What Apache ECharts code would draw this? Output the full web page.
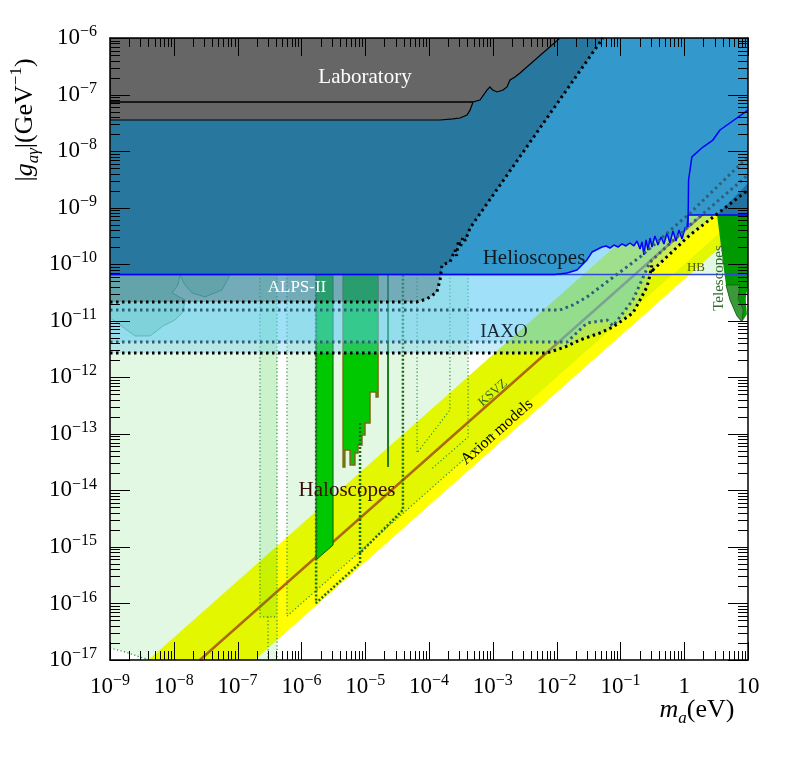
<!DOCTYPE html>
<html>
<head>
<meta charset="utf-8">
<script src="https://cdn.jsdelivr.net/npm/echarts@6/dist/echarts.min.js"></script>
<style>
  html, body { margin: 0; padding: 0; background: #fff; }
  #chart { width: 788px; height: 768px; }
</style>
</head>
<body>
<div id="chart"></div>
<script>
// axis ranges: m_a in eV, |g| in GeV^-1
var massRange = [1e-9, 10];
var couplingRange = [1e-17, 1e-6];
var xTicks = [1e-9, 1e-8, 1e-7, 1e-6, 1e-5, 1e-4, 1e-3, 1e-2, 1e-1, 1, 10];
var yTicks = [1e-17, 1e-16, 1e-15, 1e-14, 1e-13, 1e-12, 1e-11, 1e-10, 1e-9, 1e-8, 1e-7, 1e-6];

// every point below is [m_a, g]
// QCD axion band and KSVZ line
var axionBand = [[4e-9, 1e-17], [10, 2.5e-8], [10, 5.4e-10], [1.85e-7, 1e-17]];
var ksvzLine = [[2.56e-8, 1e-17], [10, 3.9e-9]];

// haloscope projections (pale green)
var haloProjA = [[1e-9, 6.6e-11], [4.15e-7, 6.6e-11], [4.15e-7, 1e-17], [4.24e-9, 1e-17],
  [2.95e-9, 1.13e-17], [1.72e-9, 1.39e-17], [1e-9, 1.63e-17]];
var haloProjB = [[2.24e-7, 6.6e-11], [4.15e-7, 6.6e-11], [4.15e-7, 5.8e-17], [2.24e-7, 5.8e-17]];
var haloProjC = [[5.94e-7, 6.6e-11], [4.1e-4, 6.6e-11], [4.1e-4, 1.03e-12], [2.64e-2, 6.6e-11],
  [10, 6.6e-11], [10, 1e-9], [5.94e-7, 5.94e-17]];

// dotted projection outlines
var projLineA = [[2.24e-7, 6.6e-11], [2.24e-7, 5.8e-17], [4.15e-7, 5.8e-17]];
var projLineB = [[4.15e-7, 6.6e-11], [4.15e-7, 1e-17]];
var projLineC = [[3e-7, 5.8e-17], [3e-7, 1e-17]];
var projLineD = [[5.94e-7, 6.6e-11], [5.94e-7, 5.94e-17], [1e-3, 1e-13]];
var projLineE = [[6.5e-5, 6.6e-11], [6.5e-5, 4.6e-14], [2.13e-4, 2.64e-13], [2.13e-4, 6.6e-11]];
var projLineF = [[4.1e-4, 6.6e-11], [4.1e-4, 8.8e-14], [1.1e-4, 2.4e-14]];
var projLineG = [[1e-9, 1.63e-17], [1.72e-9, 1.39e-17], [2.95e-9, 1.13e-17], [4.24e-9, 1e-17]];
var projThickA = [[1.7e-6, 6.6e-11], [1.7e-6, 1.02e-16], [8.3e-6, 5.2e-16], [8.3e-6, 7.8e-16],
  [3.9e-5, 4.5e-15], [3.9e-5, 6.6e-11]];
var projThickB = [[8.3e-6, 1.56e-13], [8.3e-6, 7.8e-16]];

// haloscope limits (solid green)
var haloLimitA = [[1.7e-6, 6.6e-11], [3.13e-6, 6.6e-11], [3.13e-6, 1.08e-15], [1.7e-6, 5.9e-16]];
var haloLimitB = [[4.5e-6, 6.6e-11], [1.59e-5, 6.6e-11], [1.59e-5, 4.49e-13], [1.48e-5, 4.49e-13],
  [1.48e-5, 5.5e-13], [1.19e-5, 5.5e-13], [1.19e-5, 1.56e-13], [9.93e-6, 1.56e-13],
  [9.93e-6, 9.5e-14], [8.9e-6, 9.5e-14], [8.9e-6, 6.35e-14], [7.7e-6, 6.35e-14],
  [7.7e-6, 4.58e-14], [6.9e-6, 4.58e-14], [6.9e-6, 2.8e-14], [5.8e-6, 2.8e-14],
  [5.8e-6, 5.2e-14], [4.8e-6, 5.2e-14], [4.8e-6, 2.6e-14], [4.5e-6, 2.6e-14]];
var haloLimitC = [[2.28e-5, 6.6e-11], [2.28e-5, 2.6e-14]];

// astrophysical bounds at low mass
var astroA = [[1e-9, 6.4e-11], [1.25e-8, 6.4e-11], [1.16e-8, 4.28e-11], [9.4e-9, 3.1e-11],
  [1.5e-8, 2.33e-11], [1.39e-8, 1.43e-11], [1.04e-8, 1.03e-11], [6.8e-9, 8.07e-12],
  [4.24e-9, 5.37e-12], [2.47e-9, 5.37e-12], [1.44e-9, 8.4e-12], [1e-9, 1.12e-11]];
var astroB = [[1.25e-8, 6.4e-11], [7.6e-8, 6.4e-11], [5.7e-8, 3.5e-11], [3.08e-8, 2.63e-11],
  [1.93e-8, 3.1e-11], [1.5e-8, 4.28e-11]];

// helioscope projections (IAXO family) and ALPS-II
var iaxoLow = [[1e-9, 2.69e-12], [7.08e-3, 2.69e-12], [1.36e-2, 3.43e-12], [2.33e-2, 4.57e-12],
  [4.79e-2, 6.07e-12], [7.66e-2, 7.76e-12], [0.157, 1.37e-11], [0.203, 2.33e-11],
  [0.261, 3.95e-11], [0.291, 6.44e-11], [0.31, 9.5e-11], [0.318, 7.0e-11], [0.324, 7.9e-11],
  [1.23, 3.28e-10], [10, 2.05e-9]];
var iaxoMid = [[1e-9, 4.2e-12], [1.46e-2, 4.2e-12], [2.99e-2, 9.1e-12], [6.17e-2, 1.03e-11],
  [7.66e-2, 8.07e-12], [0.157, 2.33e-11], [0.291, 1.09e-10], [1.23, 4.93e-10], [10, 3.78e-9]];
var iaxoHigh = [[1e-9, 1.55e-11], [1.13e-2, 1.55e-11], [1.81e-2, 1.9e-11], [2.99e-2, 2.63e-11],
  [0.203, 1.34e-10], [1.23, 8.0e-10], [10, 7.9e-9]];
var alpsTwo = [[1e-9, 2.15e-11], [6.5e-5, 2.15e-11], [9.3e-5, 2.43e-11], [1.33e-4, 3.2e-11],
  [1.49e-4, 5.3e-11], [1.6e-4, 9.7e-11], [2.13e-4, 1.09e-10], [2.56e-4, 1.78e-10],
  [2.7e-4, 1.4e-10], [2.9e-4, 2.6e-10], [3.1e-4, 2.0e-10], [3.41e-4, 3.03e-10],
  [3.7e-4, 2.6e-10], [4.4e-4, 4.37e-10], [5.33e-2, 1e-6]];

// helioscope (CAST) limit
var castLimit = [[1e-9, 6.6e-11], [9.4e-3, 6.6e-11], [1.46e-2, 6.98e-11], [2.09e-2, 7.9e-11],
  [2.99e-2, 1.19e-10], [3.59e-2, 1.64e-10], [0.0515, 2.01e-10], [0.0595, 2.1e-10],
  [0.0687, 1.93e-10], [0.0794, 2.18e-10], [0.0917, 2.01e-10], [0.106, 2.28e-10],
  [0.122, 2.1e-10], [0.141, 2.37e-10], [0.163, 2.1e-10], [0.182, 2.57e-10], [0.203, 1.86e-10],
  [0.218, 2.47e-10], [0.234, 1.46e-10], [0.252, 2.68e-10], [0.271, 1.78e-10], [0.291, 2.9e-10],
  [0.313, 2.01e-10], [0.348, 3.15e-10], [0.388, 2.18e-10], [0.433, 3.03e-10], [0.482, 2.28e-10],
  [0.537, 3.56e-10], [0.598, 2.37e-10], [0.667, 3.87e-10], [0.743, 2.57e-10], [0.828, 4.03e-10],
  [0.924, 2.79e-10], [1.03, 4.37e-10], [1.11, 4.55e-10], [1.15, 7.4e-10]];
var castHigh = [[1.15, 4.55e-10], [1.17, 3.08e-9], [1.32, 7.9e-9], [1.97, 1.18e-8],
  [2.82, 1.57e-8], [3.64, 2.36e-8], [10, 5.3e-8]];
var castFloor = [[1.15, 7.4e-10], [10, 7.4e-10]];
var hbLimit = [[1e-9, 6.6e-11], [10, 6.6e-11]];

// telescopes
var telescopes = [[3.27, 7.4e-10], [10, 7.4e-10], [10, 4.3e-11], [9.2, 2.5e-11], [9.6, 1.3e-11],
  [8.05, 9.5e-12], [6.72, 1.21e-11], [5.22, 2.33e-11], [4.52, 4.28e-11], [4.05, 1.09e-10],
  [3.64, 2.9e-10]];
var telescopesLow = [[4.52, 4.28e-11], [7.4, 4.28e-11], [7.0, 2.4e-11], [8.4, 1.6e-11],
  [8.05, 9.5e-12], [6.72, 1.21e-11], [5.22, 2.33e-11]];
var darkWedge = [[3.27, 7.4e-10], [10, 7.4e-10], [10, 2.73e-9]];

// laboratory (light shining through wall)
var laboratory = [[1e-9, 1e-6], [1.13e-2, 1e-6], [2.67e-3, 2.4e-7], [2.23e-3, 2.04e-7],
  [1.86e-3, 1.81e-7], [1.67e-3, 1.36e-7], [1.45e-3, 1.2e-7], [1.16e-3, 1.11e-7], [1.0e-3, 1.2e-7],
  [9.0e-4, 1.36e-7], [8.1e-4, 1.2e-7], [6.3e-4, 8.0e-8], [4.9e-4, 7.4e-8], [4.4e-4, 5.3e-8],
  [3.94e-4, 4.35e-8], [3.06e-4, 3.85e-8], [2.38e-4, 3.7e-8], [1.49e-4, 3.55e-8], [1e-9, 3.55e-8]];
var laboratoryStep = [[1e-9, 7.4e-8], [4.9e-4, 7.4e-8]];

var serif = '"Liberation Serif", "DejaVu Serif", serif';
var chart = echarts.init(document.getElementById('chart'));

function withTop(pts) {
  return pts.concat([[massRange[1], couplingRange[1]], [massRange[0], couplingRange[1]]]);
}

// filled region through the cartesian scales
function fillSeries(pts, fill, z, stroke, lw) {
  return {
    type: 'custom', coordinateSystem: 'cartesian2d', silent: true, clip: true, z: z,
    data: pts,
    renderItem: function (params, api) {
      if (params.dataIndex !== 0) return null;
      return {
        type: 'polygon',
        shape: { points: pts.map(function (d) { return api.coord(d); }) },
        style: { fill: fill, stroke: stroke || null, lineWidth: lw || 0 }
      };
    }
  };
}

function lineSeries(pts, color, width, dash, z) {
  return {
    type: 'line', data: pts, z: z, silent: true, symbol: 'none', clip: true,
    lineStyle: { color: color, width: width, type: dash || 'solid' }
  };
}

var dots = [2.5, 3.5];
var fineDots = [1.2, 2.4];

// log minor/major ticks on all four sides
var tickSeries = {
  type: 'custom', coordinateSystem: 'cartesian2d', silent: true, z: 25,
  data: [[massRange[0], couplingRange[0]]],
  renderItem: function (params, api) {
    var kids = [];
    var bl = api.coord([massRange[0], couplingRange[0]]);
    var tr = api.coord([massRange[1], couplingRange[1]]);
    function seg(x1, y1, x2, y2) {
      kids.push({ type: 'line', shape: { x1: x1, y1: y1, x2: x2, y2: y2 },
        style: { stroke: '#000', lineWidth: 1 } });
    }
    xTicks.forEach(function (v) {
      for (var k = 1; k <= 9; k++) {
        if (v * k > massRange[1] * 1.0001) break;
        var px = Math.round(api.coord([v * k, couplingRange[0]])[0]) + 0.5;
        var len = k === 1 ? 18 : 9;
        seg(px, bl[1], px, bl[1] - len);
        seg(px, tr[1], px, tr[1] + len);
      }
    });
    yTicks.forEach(function (v) {
      for (var k = 1; k <= 9; k++) {
        if (v * k > couplingRange[1] * 1.0001) break;
        var py = Math.round(api.coord([massRange[0], v * k])[1]) + 0.5;
        var len = k === 1 ? 20 : 10;
        seg(bl[0], py, bl[0] + len, py);
        seg(tr[0], py, tr[0] - len, py);
      }
    });
    return { type: 'group', children: kids };
  }
};

function powLabel(v) {
  var e = Math.round(Math.log10(v));
  if (e === 0) return '{b|1}';
  if (e === 1) return '{b|10}';
  return '{b|10}{e|\u2212' + (-e) + '}';
}
var tickRich = {
  b: { fontFamily: serif, fontSize: 23, color: '#000', lineHeight: 28 },
  e: { fontFamily: serif, fontSize: 16, color: '#000', lineHeight: 20, verticalAlign: 'top' }
};

function makeAxis(min, max, pos, labels) {
  return {
    type: 'log', logBase: 10, min: min, max: max, interval: 1, position: pos, z: 30,
    axisLine: { show: true, lineStyle: { color: '#000', width: 1.5 } },
    axisTick: { show: false }, splitLine: { show: false }, minorTick: { show: false },
    axisLabel: labels ? { show: true, formatter: powLabel, rich: tickRich, margin: 13,
      showMinLabel: true, showMaxLabel: true } : { show: false }
  };
}

function txt(text, x, y, size, color, rot, extra) {
  var s = { text: text, x: 0, y: 0, fill: color, fontSize: size, fontFamily: serif,
    align: 'center', verticalAlign: 'middle' };
  if (extra) for (var k in extra) s[k] = extra[k];
  return { type: 'text', x: x, y: y, rotation: rot || 0, z: 40, style: s };
}

var bandAngle = Math.atan2(56.55, 63.8);
var nameRich = {
  i: { fontSize: 26, fontFamily: serif, fontStyle: 'italic', fill: '#000', lineHeight: 34 },
  s: { fontSize: 17, fontFamily: serif, fontStyle: 'italic', fill: '#000', lineHeight: 20, verticalAlign: 'bottom' },
  p: { fontSize: 17, fontFamily: serif, fill: '#000', lineHeight: 22, verticalAlign: 'top' },
  n: { fontSize: 26, fontFamily: serif, fill: '#000', lineHeight: 34 }
};

var option = {
  animation: false,
  grid: { left: 110, top: 38, right: 40, bottom: 108 },
  xAxis: [makeAxis(massRange[0], massRange[1], 'bottom', true),
          makeAxis(massRange[0], massRange[1], 'top', false)],
  yAxis: [makeAxis(couplingRange[0], couplingRange[1], 'left', true),
          makeAxis(couplingRange[0], couplingRange[1], 'right', false)],
  series: [
    fillSeries(axionBand, '#ffff00', 1),
    lineSeries(ksvzLine, '#c0600a', 2.5, 'solid', 2),
    fillSeries(haloProjA, 'rgba(0,191,0,0.11)', 3),
    fillSeries(haloProjB, 'rgba(0,191,0,0.11)', 3),
    fillSeries(haloProjC, 'rgba(0,191,0,0.11)', 3),
    fillSeries(haloLimitA, '#00c800', 4, '#0a5a0a', 1),
    fillSeries(haloLimitB, '#00c800', 4, '#7a6a10', 1.5),
    lineSeries(haloLimitC, '#1e7a1e', 2, 'solid', 4),
    lineSeries(projLineA, '#2e8b3e', 1.2, fineDots, 5),
    lineSeries(projLineB, '#2e8b3e', 1.2, fineDots, 5),
    lineSeries(projLineC, '#2e8b3e', 1.2, fineDots, 5),
    lineSeries(projLineD, '#2e8b3e', 1.2, fineDots, 5),
    lineSeries(projLineE, '#2e8b3e', 1.2, fineDots, 5),
    lineSeries(projLineF, '#2e8b3e', 1.2, fineDots, 5),
    lineSeries(projLineG, '#2e8b3e', 1.2, fineDots, 5),
    lineSeries(projThickA, '#1a6a1a', 2.5, [2, 2], 5),
    lineSeries(projThickB, '#1a6a1a', 2.5, [2, 2], 5),
    fillSeries(astroA, 'rgba(40,150,70,0.28)', 5, 'rgba(30,100,60,0.6)', 1),
    fillSeries(astroB, 'rgba(40,150,70,0.28)', 5, 'rgba(30,100,60,0.6)', 1),
    fillSeries(withTop(iaxoLow), 'rgba(100,201,235,0.355)', 6),
    fillSeries(withTop(iaxoMid), 'rgba(86,202,248,0.35)', 6),
    fillSeries(withTop(castLimit.slice(0, -1).concat([[1.15, 7.4e-10], [10, 7.4e-10]])), '#3399cc', 8),
    fillSeries(telescopes, '#009900', 8),
    fillSeries(telescopesLow, '#3a9a3a', 8, '#1a5a1a', 0.8),
    fillSeries(darkWedge, 'rgba(0,40,80,0.35)', 8),
    fillSeries(withTop(alpsTwo), 'rgba(0,0,0,0.22)', 9),
    fillSeries(laboratory, '#666666', 10, '#000', 1.2),
    lineSeries(laboratoryStep, '#000', 1.5, 'solid', 11),
    lineSeries(hbLimit, '#3048d8', 1.5, 'solid', 11),
    lineSeries(castLimit, '#0000ff', 1.5, 'solid', 12),
    lineSeries(castHigh, '#0000ff', 1.5, 'solid', 12),
    lineSeries(castFloor, '#0000ff', 1.5, 'solid', 12),
    lineSeries(alpsTwo, '#000', 3, dots, 13),
    lineSeries(iaxoHigh, '#2f5f78', 3, dots, 13),
    lineSeries(iaxoMid, '#2f5f78', 3, dots, 13),
    lineSeries(iaxoLow, '#000', 3, dots, 13),
    tickSeries
  ],
  graphic: [
    txt('Laboratory', 365, 77, 21, '#ffffff'),
    txt('Helioscopes', 534, 258, 21, '#101820'),
    txt('ALPS-II', 297, 288, 17, '#ffffff'),
    txt('IAXO', 504, 332, 19, '#1a2530'),
    txt('Haloscopes', 347, 490, 21, '#3c0c0c'),
    txt('KSVZ', 493, 393, 13, '#2e6b1e', bandAngle),
    txt('Axion models', 497, 432, 16, '#000', bandAngle),
    txt('HB', 696, 268, 13, '#4a5a00'),
    txt('Telescopes', 719, 278, 15, '#2f6b2f', Math.PI / 2),
    txt('{i|m}{s|a}{n|(eV)}', 697, 710, 24, '#000', 0, { rich: nameRich }),
    txt('{n||}{i|g}{s|a\u03b3}{n||(GeV}{p|\u22121}{n|)}', 25, 120, 24, '#000', Math.PI / 2,
      { rich: nameRich })
  ]
};

chart.setOption(option);
</script>
</body>
</html>
